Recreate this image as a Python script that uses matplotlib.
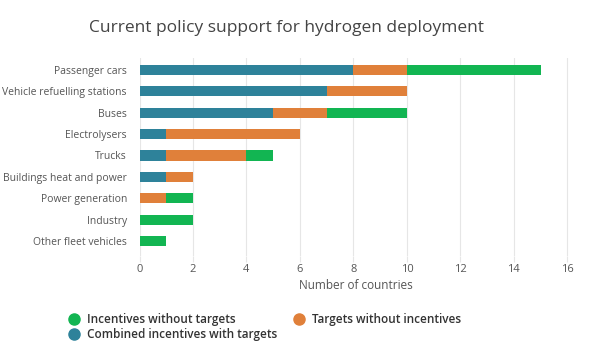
import matplotlib
matplotlib.use("Agg")
import matplotlib.pyplot as plt
from matplotlib.lines import Line2D

plt.rcParams['font.family'] = ['Open Sans', 'DejaVu Sans']

categories = ["Passenger cars", "Vehicle refuelling stations", "Buses", "Electrolysers",
              "Trucks", "Buildings heat and power", "Power generation", "Industry",
              "Other fleet vehicles"]
combined = [8, 7, 5, 1, 1, 1, 0, 0, 0]
targets_only = [2, 3, 2, 5, 3, 1, 1, 0, 0]
incentives_only = [5, 0, 3, 0, 1, 0, 1, 2, 1]
xticks = [0, 2, 4, 6, 8, 10, 12, 14, 16]

c_blue = "#2e829a"
c_orange = "#e0803a"
c_green = "#12b552"
txt = "#555555"

fig = plt.figure(figsize=(6, 3.52), dpi=100)
ax = fig.add_axes([0.2325, 0.273, 0.722, 0.562])

y = list(range(len(categories)))
h = 0.47
ax.barh(y, combined, height=h, color=c_blue, zorder=3)
left2 = combined
ax.barh(y, targets_only, left=left2, height=h, color=c_orange, zorder=3)
left3 = [a + b for a, b in zip(combined, targets_only)]
ax.barh(y, incentives_only, left=left3, height=h, color=c_green, zorder=3)

ax.set_ylim(8.7, -0.56)
ax.set_xlim(0, 16.2)
ax.set_yticks(y)
ax.set_yticklabels(categories, fontsize=7.5, color=txt)
ax.set_xticks(xticks)
ax.set_xticklabels([str(t) for t in xticks], fontsize=8, color=txt)
ax.tick_params(axis='y', length=0, pad=9)
ax.tick_params(axis='x', length=4, color="#e6e6e6", pad=2)
ax.grid(axis='x', color="#e6e6e6", linewidth=0.8, zorder=0)
for s in ax.spines.values():
    s.set_visible(False)
ax.set_xlabel("Number of countries", fontsize=8.5, color=txt, labelpad=3)

fig.text(0.477, 0.92, "Current policy support for hydrogen deployment",
         ha='center', va='center', fontsize=12.5, color="#444444")

handles = [
    Line2D([], [], marker='o', linestyle='', markersize=8, color=c_green, label="Incentives without targets"),
    Line2D([], [], marker='o', linestyle='', markersize=8, color=c_blue, label="Combined incentives with targets"),
    Line2D([], [], marker='o', linestyle='', markersize=8, color=c_orange, label="Targets without incentives"),
]
leg = fig.legend(handles=handles, ncol=2, loc='upper left', bbox_to_anchor=(0.095, 0.125),
                 frameon=False, fontsize=8.5, handletextpad=0.1, columnspacing=0.9,
                 labelspacing=0.2, borderaxespad=0)
for t in leg.get_texts():
    t.set_color("#333333")
    t.set_fontweight('semibold')

fig.savefig("out.png", dpi=100, facecolor="white")
